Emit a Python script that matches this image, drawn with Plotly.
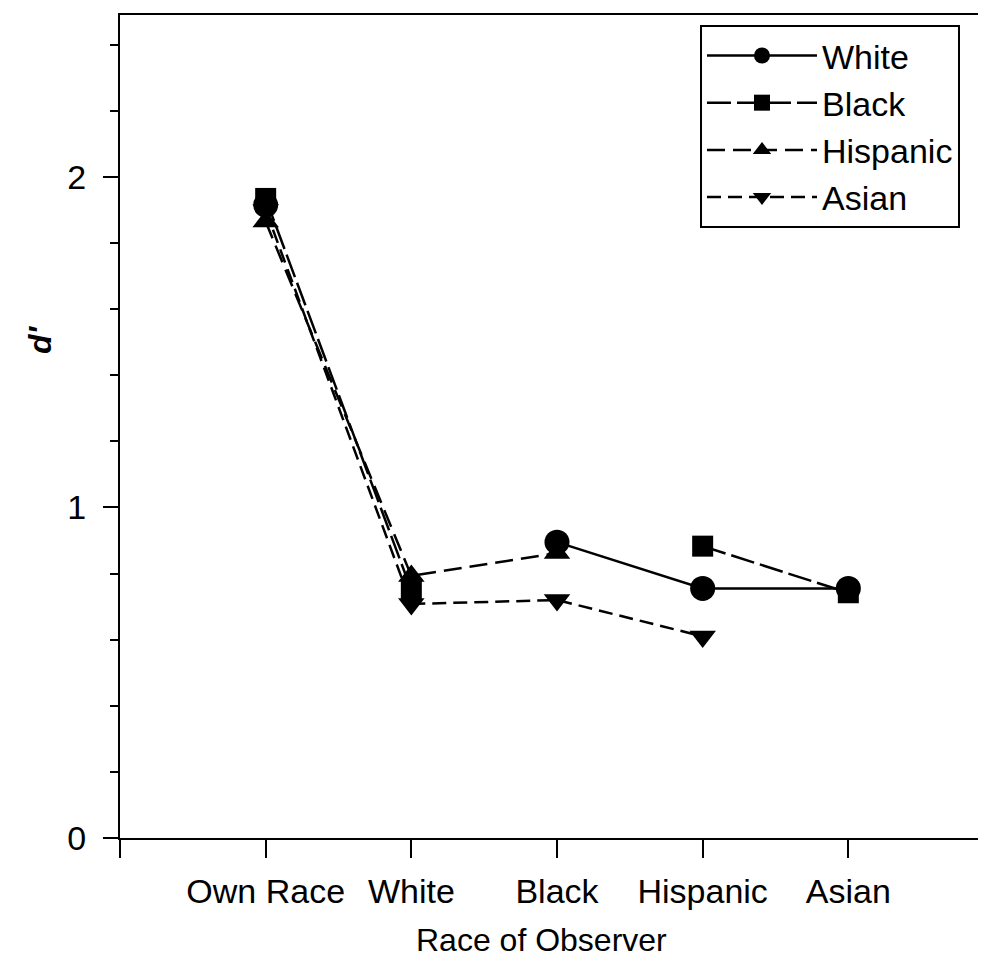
import plotly.graph_objects as go

categories = ["Own Race", "White", "Black", "Hispanic", "Asian"]
series_names = ["White", "Black", "Hispanic", "Asian"]
white_vals = [1.915, None, 0.895, 0.755, 0.755]
black_vals = [1.935, 0.75, None, 0.883, 0.742]
hispanic_vals = [1.865, 0.793, 0.862, None, None]
asian_vals = [1.90, 0.708, 0.72, 0.61, None]

y_ticks = [0, 1, 2]

FONT = "Liberation Sans, Arial, Helvetica, sans-serif"
xpos = list(range(len(categories)))

styles = {
    "White": dict(symbol="circle", size=25, dash="solid"),
    "Black": dict(symbol="square", size=21, dash="24px,6px"),
    "Hispanic": dict(symbol="triangle-up", size=23, dash="18px,8px"),
    "Asian": dict(symbol="triangle-down", size=23, dash="14px,7px"),
}
values = {"White": white_vals, "Black": black_vals, "Hispanic": hispanic_vals, "Asian": asian_vals}

fig = go.Figure()
for name in series_names:
    st = styles[name]
    fig.add_trace(go.Scatter(
        x=xpos, y=values[name], name=name, mode="lines+markers",
        connectgaps=False,
        line=dict(color="black", width=2.5, dash=st["dash"]),
        marker=dict(symbol=st["symbol"], size=st["size"], color="black",
                    line=dict(width=0)),
    ))

fig.update_layout(
    width=986, height=960,
    margin=dict(l=112, r=0, t=7, b=130),
    paper_bgcolor="white", plot_bgcolor="white",
    font=dict(family=FONT, size=34, color="black"),
    showlegend=True,
    legend=dict(x=0.6636, y=0.988, xanchor="left", yanchor="top",
                bordercolor="black", borderwidth=2, bgcolor="white",
                font=dict(size=34), itemwidth=110, tracegroupgap=0),
    annotations=[
        dict(text="<b><i>d'</i></b>", xref="paper", yref="paper",
             x=-0.0915, y=0.605, xanchor="center", yanchor="middle",
             showarrow=False, textangle=-90, font=dict(size=32, family=FONT)),
        dict(text="Race of Observer", xref="paper", yref="paper",
             x=0.4817, y=0, xanchor="center", yanchor="middle", yshift=-102,
             showarrow=False, font=dict(size=32, family=FONT)),
    ],
)
fig.update_xaxes(
    range=[-1, 5.0], tickvals=[-1] + xpos, ticktext=[""] + categories,
    showline=True, linewidth=2, linecolor="black", mirror=True,
    ticks="outside", ticklen=18, tickwidth=2, tickcolor="black",
    showgrid=False, zeroline=False, ticklabelstandoff=4,
    tickfont=dict(size=34),
)
fig.update_yaxes(
    range=[0, 2.49], tickvals=y_ticks,
    showline=True, linewidth=2, linecolor="black",
    ticks="outside", ticklen=15, tickwidth=2, tickcolor="black",
    minor=dict(dtick=0.2, tick0=0, ticks="outside", ticklen=8, tickwidth=2, tickcolor="black"),
    showgrid=False, zeroline=False, ticklabelstandoff=10,
    tickfont=dict(size=34),
)

fig.write_html("out.html",
               post_script="document.documentElement.style.overflow='hidden';document.body.style.overflow='hidden';")
